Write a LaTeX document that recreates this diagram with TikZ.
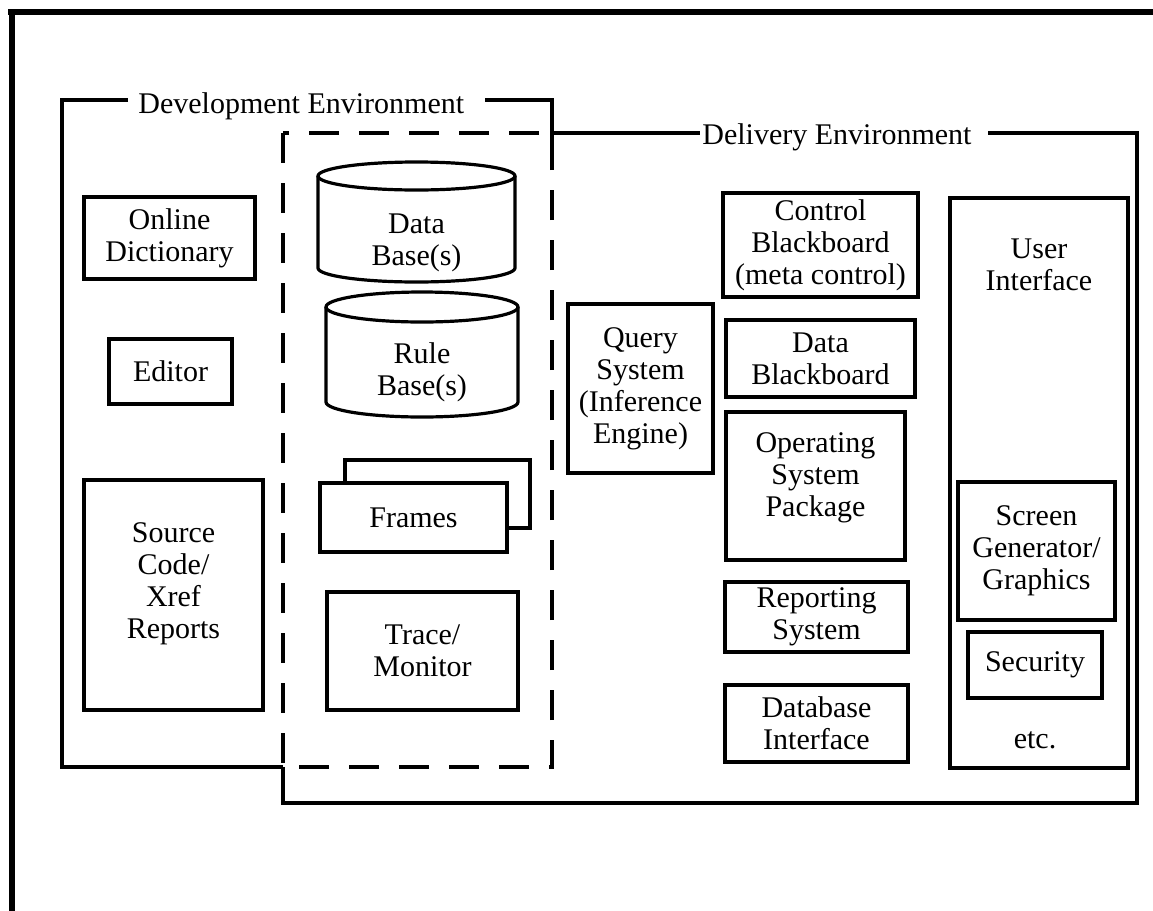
\documentclass[tikz,border=0pt]{standalone}
\usepackage{fontspec}
\setmainfont{Liberation Serif}
\newcommand\diagfont{\fontsize{15pt}{16pt}\selectfont}
\begin{document}
\begin{tikzpicture}[x=0.5pt,y=-0.5pt,
  every node/.style={font=\diagfont},
  box/.style={draw, line width=1.6pt, align=center, inner sep=0pt, outer sep=0pt},
  txt/.style={align=center, inner sep=0pt},
  env/.style={line width=1.6pt},
  overlap/.style={line width=1.6pt, dash pattern=on 15pt off 10pt},
  frame/.style={line width=3pt}]
\useasboundingbox (0,0) rectangle (1153,911);

% page frame
\draw[frame] (8,11.5) -- (1153,11.5);
\draw[frame] (11.5,10) -- (11.5,911);

% development environment
\node[txt, anchor=base west] (devlabel) at (138,113) {Development Environment};
\draw[env] (128,100) -- (62,100) -- (62,767) -- (283,767);
\draw[env] (485,100) -- (552,100) -- (552,140);

% shared tools (both environments)
\draw[overlap] (283,133) rectangle (552,767);

% delivery environment
\node[txt, anchor=base west] (dellabel) at (702,144) {Delivery Environment};
\draw[env] (552,133) -- (700,133);
\draw[env] (988,133) -- (1137,133) -- (1137,803) -- (283,803) -- (283,767);

% development tools
\node[box, minimum width=85.5pt, minimum height=41pt] (dict) at (169.5,238) {Online\\Dictionary};
\node[box, minimum width=61.5pt, minimum height=32.5pt] (editor) at (170.5,371.5) {Editor};
\node[box, minimum width=89.5pt, minimum height=115pt] (source) at (173.5,595) {};
\node[txt] (sourcetext) at (173.5,584) {Source\\Code/\\Xref\\Reports};

% data base cylinder
\draw[env] (416.5,176) ellipse [x radius=98.5, y radius=14];
\draw[env] (318,176) -- (318,268) arc[start angle=180, end angle=0, x radius=98.5, y radius=14] -- (515,176);
\node[txt] (database) at (416.5,243) {Data\\Base(s)};

% rule base cylinder
\draw[env] (422,307) ellipse [x radius=96, y radius=15];
\draw[env] (326,307) -- (326,402) arc[start angle=180, end angle=0, x radius=96, y radius=15] -- (518,307);
\node[txt] (rulebase) at (422,372) {Rule\\Base(s)};

% frames (stacked)
\node[box, minimum width=92.5pt, minimum height=34pt] (framesback) at (437.5,494) {};
\node[box, fill=white, minimum width=93.5pt, minimum height=34.5pt] (frames) at (413.5,517.5) {Frames};
\node[box, minimum width=95.5pt, minimum height=59pt] (trace) at (422.5,651) {Trace/\\Monitor};

% delivery components
\node[box, minimum width=72.5pt, minimum height=84.5pt] (query) at (640.5,388.5) {Query\\System\\(Inference\\Engine)};
\node[box, minimum width=97.5pt, minimum height=52pt] (control) at (820.5,245) {Control\\Blackboard\\(meta control)};
\node[box, minimum width=94.5pt, minimum height=38.5pt] (datab) at (820.5,358.5) {Data\\Blackboard};
\node[box, minimum width=89.5pt, minimum height=74pt] (ospkg) at (815.5,486) {};
\node[txt] (ostext) at (815.5,478) {Operating\\System\\Package};
\node[box, minimum width=91.5pt, minimum height=35pt] (report) at (816.5,617) {Reporting\\System};
\node[box, minimum width=91.5pt, minimum height=38.5pt] (dbi) at (816.5,723.5) {Database\\Interface};

% user interface column
\node[box, minimum width=89pt, minimum height=285pt] (ui) at (1039,483) {};
\node[txt] (uitext) at (1039,265) {User\\Interface};
\node[box, minimum width=78.5pt, minimum height=69pt] (screen) at (1036.5,551) {Screen\\Generator/\\Graphics};
\node[box, minimum width=67pt, minimum height=33pt] (security) at (1035,665) {Security};
\node[txt] (etc) at (1035,740) {etc.};
\end{tikzpicture}
\end{document}
